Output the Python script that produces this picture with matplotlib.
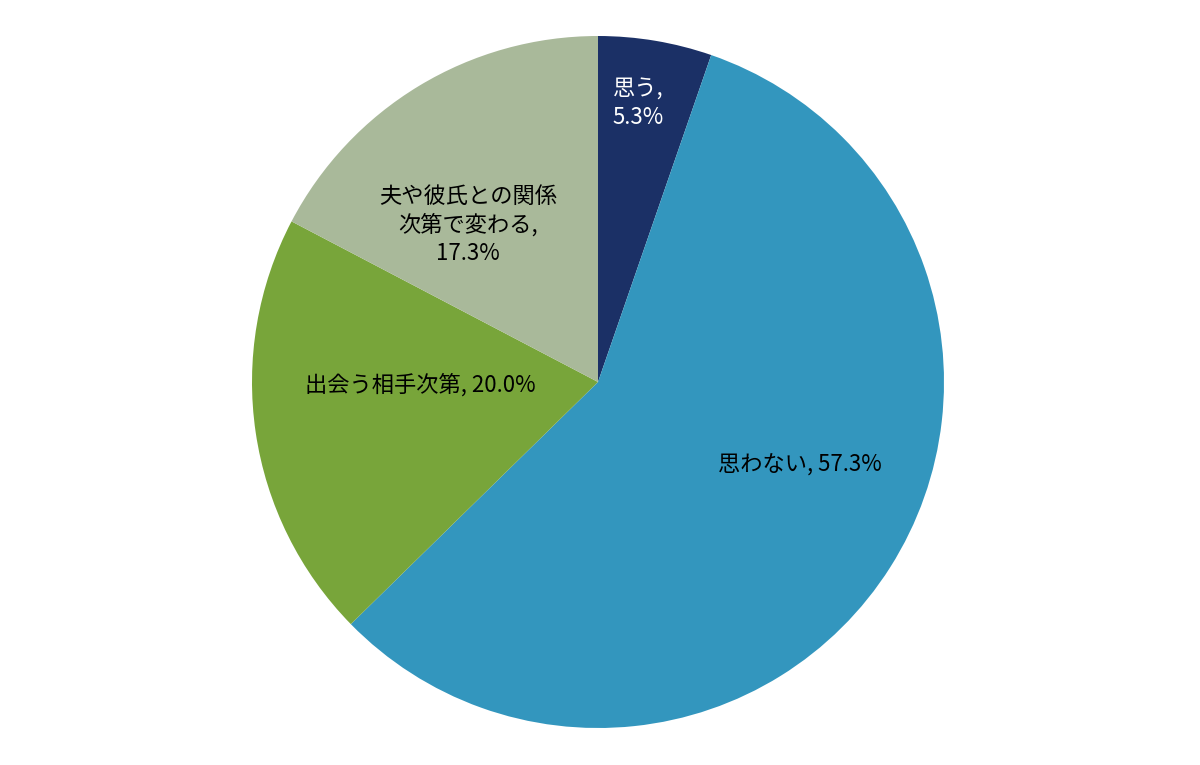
import matplotlib
matplotlib.use("Agg")
import matplotlib.pyplot as plt

plt.rcParams['font.family'] = ['Noto Sans CJK JP', 'DejaVu Sans']

categories = ["思う", "思わない", "出会う相手次第", "夫や彼氏との関係\n次第で変わる"]
values = [5.3, 57.3, 20.0, 17.3]
colors = ["#1B3066", "#3396BE", "#78A53A", "#A9B99A"]

fig = plt.figure(figsize=(12, 7.65), dpi=100)
ax = fig.add_axes([0, 0, 1, 1])
ax.set_xlim(0, 1200)
ax.set_ylim(0, 765)
ax.set_aspect('equal')
ax.axis('off')

cx, cy, r = 598, 765 - 382, 346
ax.pie(values, colors=colors, startangle=90, counterclock=False,
       center=(cx, cy), radius=r, frame=True,
       wedgeprops=dict(linewidth=0))
ax.set_xlim(0, 1200)
ax.set_ylim(0, 765)
ax.axis('off')

label_pos = [(638, 103), (800, 465), (420, 385), (468, 225)]
text_colors = ["white", "black", "black", "black"]
for cat, v, (x, y), tc in zip(categories, values, label_pos, text_colors):
    if cat == "思う":
        s = f"{cat},\n{v:.1f}%"
    elif "\n" in cat:
        s = f"{cat},\n{v:.1f}%"
    else:
        s = f"{cat}, {v:.1f}%"
    ax.text(x, 765 - y, s, ha='center', va='center', fontsize=16,
            color=tc, linespacing=1.3)

fig.savefig("out.png", dpi=100)
